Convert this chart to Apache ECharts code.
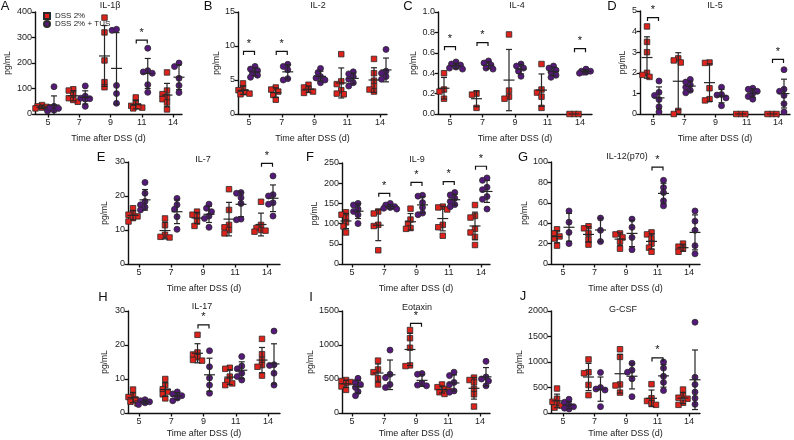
<!DOCTYPE html>
<html><head><meta charset="utf-8">
<script src="https://cdn.jsdelivr.net/npm/echarts@6/dist/echarts.min.js"></script>
<style>html,body{margin:0;padding:0;background:#fff}#c{width:794px;height:440px}</style>
</head><body><div id="c"></div>
<script>
const days = ['5','7','9','11','14'];
const groupNames = ['DSS 2%', 'DSS 2% + TUS'];

// IL-1β
const il1b_dss = [[35,30,25,22,28,20],[97,92,75,62,48,55],[378,320,210,125,105],[65,45,32,25,22,30],[163,92,78,66,58,45,18]];
const il1b_tus = [[107,30,15,12,22,25],[110,70,62,58,30,60],[328,332,112,80,42],[258,170,165,160,115,85],[200,186,140,112,84]];
const il1b_sig = [[3,290]];
// IL-2
const il2_dss = [[4.5,3.8,3.5,3.2,3.0,2.9],[3.9,3.6,3.3,2.8,2.1],[4.3,3.9,3.6,3.3,3.1],[8.8,4.8,4.4,3.5,3.0,2.9],[8.1,6.0,4.9,4.1,3.6,3.3]];
const il2_tus = [[7.0,6.6,6.4,6.0,5.7,5.4],[7.3,7.0,6.5,5.2,5.0],[6.7,6.1,5.5,5.3,5.0,4.6],[6.2,5.9,5.5,5.1,4.6,4.1],[9.5,6.3,6.0,5.5,5.1]];
const il2_sig = [[0,9.2],[1,9.2]];
// IL-4
const il4_dss = [[0.40,0.24,0.22,0.15],[0.20,0.19,0.06],[0.78,0.23,0.17,0.15],[0.49,0.24,0.21,0.17,0.06],[0,0,0]];
const il4_tus = [[0.51,0.49,0.48,0.46,0.44,0.45],[0.52,0.50,0.48,0.45,0.44],[0.49,0.47,0.45,0.42,0.37],[0.47,0.45,0.43,0.41,0.38,0.36],[0.44,0.42,0.41,0.41,0.42,0.40]];
const il4_sig = [[0,0.66],[1,0.70],[4,0.64]];
// IL-5
const il5_dss = [[4.25,3.5,3.0,2.0,1.9,1.8],[2.7,2.6,2.5,0.15,0.0],[2.5,2.48,1.25,0.72,0.66],[0,0,0],[0,0,0]];
const il5_tus = [[1.6,1.05,0.9,0.7,0.35,0.1],[1.68,1.55,1.42,1.3,1.15,1.03],[1.3,0.95,0.92,0.78,0.4],[1.25,1.2,1.1,1.0,0.85,0.72],[2.15,1.2,1.1,0.9,0.5,0.1]];
const il5_sig = [[0,4.68],[4,2.65]];
// IL-7
const il7_dss = [[16.4,15.0,14.5,14.0,13.5,12.5],[13.4,11.4,8.6,8.0,7.8],[15.4,14.5,14.0,12.5,11.2],[22.0,15.9,11.5,10.8,10.0,9.0],[18.3,11.5,10.6,10.0,9.8,9.5]];
const il7_tus = [[24.0,20.8,18.4,17.4,16.7,15.9],[19.3,17.4,16.1,13.9,10.2],[17.6,16.4,15.4,14.1,13.4,10.8],[21.0,20.8,19.5,17.8,13.2,13.0],[25.9,20.4,20.0,18.0,17.6,14.1]];
const il7_sig = [[4,29.6]];
// IL-9
const il9_dss = [[128,122,115,103,93,78],[130,125,97,94,34],[137,110,100,89,87],[142,140,135,97,91,70],[146,119,115,87,78,67,47]];
const il9_tus = [[150,146,136,130,122,100],[150,146,142,140,136,138],[170,168,152,140,126,122],[177,171,163,155,147,142],[213,207,190,184,167,160,136]];
const il9_sig = [[1,175],[2,202],[3,204],[4,242]];
// IL-12(p70)
const il12_dss = [[34,30,27,25,18],[37,35,30,24,19],[30,29,26,22,15],[31,29,25,20,16,12],[20,17,15,12]];
const il12_tus = [[52,41,31,20],[45,33,22],[44,36,26,14],[82,75,70,62,57],[52,42,33,18,10]];
const il12_sig = [[3,95]];
// IL-17
const il17_dss = [[6.9,5.2,4.7,4.0,3.3,2.8],[10,8.2,7.0,6.3,5.5,4.3],[23,17.8,17.2,16.4,15.6,15.4],[13.3,13.0,10.7,9.4,8.7,8.2],[21.8,17.3,15.6,14.1,13.6,11]];
const il17_tus = [[3.9,3.6,3.3,3.0,2.5],[6.2,5.6,5.1,4.4,3.6],[18.3,13.6,10.3,8.2,5.8],[16.6,13.8,13.0,11.7,10.7,9.7],[24.1,14.2,14.0,11.7,8.2]];
const il17_sig = [[2,25.9]];
// Eotaxin
const eot_dss = [[485,470,455,435,390,340],[770,640,600,510,420],[1220,1100,960,700,690],[420,380,355,330,305,280],[520,485,450,355,275,95]];
const eot_tus = [[510,450,420,375,315,255],[925,570,520,420,375],[580,570,440,410,400],[600,550,450,420,325,305],[760,530,500,470,400]];
const eot_sig = [[2,1319]];
// G-CSF
const gcsf_dss = [[480,280,220,190,145,105],[1050,800,780,550,350],[1250,1100,560,540,400],[565,290,235,190,160],[460,350,300,280,200,160]];
const gcsf_tus = [[270,210,160,125,95,80],[795,500,470,450,125],[975,840,800,670,320],[1000,880,720,600,440],[1780,700,560,410,290,170]];
const gcsf_sig = [[3,1080]];

const panels = [
  {letter:'A', title:'IL-1β', dss:il1b_dss, tus:il1b_tus, sig:il1b_sig, ymax:400, step:100, dec:0},
  {letter:'B', title:'IL-2', dss:il2_dss, tus:il2_tus, sig:il2_sig, ymax:15, step:5, dec:0},
  {letter:'C', title:'IL-4', dss:il4_dss, tus:il4_tus, sig:il4_sig, ymax:1.0, step:0.2, dec:1},
  {letter:'D', title:'IL-5', dss:il5_dss, tus:il5_tus, sig:il5_sig, ymax:5, step:1, dec:0},
  {letter:'E', title:'IL-7', dss:il7_dss, tus:il7_tus, sig:il7_sig, ymax:30, step:10, dec:0},
  {letter:'F', title:'IL-9', dss:il9_dss, tus:il9_tus, sig:il9_sig, ymax:250, step:50, dec:0},
  {letter:'G', title:'IL-12(p70)', dss:il12_dss, tus:il12_tus, sig:il12_sig, ymax:100, step:20, dec:0},
  {letter:'H', title:'IL-17', dss:il17_dss, tus:il17_tus, sig:il17_sig, ymax:30, step:10, dec:0},
  {letter:'I', title:'Eotaxin', dss:eot_dss, tus:eot_tus, sig:eot_sig, ymax:1500, step:500, dec:0},
  {letter:'J', title:'G-CSF', dss:gcsf_dss, tus:gcsf_tus, sig:gcsf_sig, ymax:2000, step:500, dec:0}
];

// layout (pixels)
const layout = [
  {left:35, top:12, bot:114, c0:48, sp:31.25, right:182, yng:23, xng:20, tt:[110,6], lt:[5,6]},
  {left:238, top:12, bot:114, c0:249, sp:32.75, right:387, yng:6, xng:20, tt:[318,6], lt:[208,6]},
  {left:438, top:12, bot:114, c0:450, sp:32.5, right:592, yng:6, xng:20, tt:[517,6], lt:[408,6]},
  {left:640, top:11, bot:114, c0:653, sp:31.25, right:790, yng:13, xng:20, tt:[715,6], lt:[612,6]},
  {left:128, top:162, bot:264, c0:139, sp:32, right:280, yng:19, xng:20, tt:[203,160], lt:[101,157]},
  {left:342, top:163, bot:264, c0:352, sp:32.25, right:490, yng:23, xng:20, tt:[417,160], lt:[310,157]},
  {left:551, top:162, bot:264, c0:563, sp:31.5, right:700, yng:17, xng:20, tt:[627,157], lt:[523,157]},
  {left:128, top:311, bot:413, c0:139, sp:32.25, right:280, yng:19, xng:16, tt:[202,307], lt:[103,297]},
  {left:342, top:311, bot:413, c0:352, sp:32, right:490, yng:23, xng:16, tt:[417,308], lt:[311,297]},
  {left:551, top:311, bot:413, c0:563, sp:31.5, right:700, yng:26, xng:16, tt:[623,310], lt:[523,296]}
];

const RED = '#df221c', PURPLE = '#55197a', EDGE = '#2a2a2a';
const FONT = '"Liberation Sans", Arial, Helvetica, sans-serif';
const GOFF = [-6, 6];

function swarm(vals, ppu) {
  const order = vals.map((v,i)=>i).sort((a,b)=>vals[b]-vals[a]);
  const placed = [], offs = new Array(vals.length);
  const cands = [0,-2.5,2.5,-4.5,4.5,-6.5,6.5];
  order.forEach(i => {
    const y = vals[i]*ppu;
    let best = 0, bestD = -1;
    for (const c of cands) {
      let dmin = Infinity;
      for (const p of placed) dmin = Math.min(dmin, Math.hypot(c-p.x, y-p.y));
      if (dmin >= 4.5) { best = c; break; }
      if (dmin > bestD) { bestD = dmin; best = c; }
    }
    placed.push({x:best, y}); offs[i] = best;
  });
  return offs;
}
function meanSd(a) {
  const m = a.reduce((s,v)=>s+v,0)/a.length;
  const sd = a.length>1 ? Math.sqrt(a.reduce((s,v)=>s+(v-m)*(v-m),0)/(a.length-1)) : 0;
  return [m, sd];
}

const grid=[], xAxis=[], yAxis=[], series=[], graphic=[];
panels.forEach((p, k) => {
  const L = layout[k];
  const h = L.bot - L.top;
  const ppu = h / p.ymax;
  grid.push({left:L.left, top:L.top, width:L.right-L.left, height:h, containLabel:false});
  const xmin = -(L.c0 - L.left)/L.sp;
  const xmax = 4 + (L.right - (L.c0 + 4*L.sp))/L.sp;
  xAxis.push({type:'value', gridIndex:k, min:xmin, max:xmax,
    name:'Time after DSS (d)', nameLocation:'middle', nameGap:L.xng,
    nameTextStyle:{fontSize:9, color:'#222', fontFamily:FONT},
    axisLine:{onZero:false, lineStyle:{color:'#111', width:1.4}},
    axisTick:{customValues:[0,1,2,3,4], length:3.5, lineStyle:{color:'#111', width:1.3}},
    axisLabel:{customValues:[0,1,2,3,4], formatter:v=>days[Math.round(v)], fontSize:9, color:'#222', margin:4, fontFamily:FONT},
    splitLine:{show:false}});
  yAxis.push({type:'value', gridIndex:k, min:0, max:p.ymax, interval:p.step,
    name:'pg/mL', nameLocation:'middle', nameGap:L.yng, nameRotate:90,
    nameTextStyle:{fontSize:8.5, color:'#222', fontFamily:FONT},
    axisLine:{show:true, onZero:false, lineStyle:{color:'#111', width:1.4}},
    axisTick:{show:true, length:3.5, lineStyle:{color:'#111', width:1.3}},
    axisLabel:{fontSize:9, color:'#222', margin:3, fontFamily:FONT, formatter:v=>v.toFixed(p.dec)},
    splitLine:{show:false}});
  const groups = [p.dss, p.tus];
  const ebData = [];
  groups.forEach((g, gi) => {
    const data = [];
    g.forEach((vals, di) => {
      const offs = swarm(vals, ppu);
      vals.forEach((v, j) => data.push({value:[di, v], symbolOffset:[GOFF[gi]+offs[j], 0]}));
      const [m, sd] = meanSd(vals);
      ebData.push([di, m, sd, GOFF[gi]]);
    });
    series.push({type:'scatter', name:groupNames[gi], xAxisIndex:k, yAxisIndex:k,
      symbol: gi===0 ? 'rect' : 'circle', symbolSize: gi===0 ? 5.5 : 6,
      itemStyle:{color: gi===0 ? RED : PURPLE, borderColor:EDGE, borderWidth:0.8, opacity:1},
      emphasis:{disabled:true}, silent:true, z:3, data});
  });
  series.push({type:'custom', xAxisIndex:k, yAxisIndex:k, z:5, silent:true, clip:false,
    encode:{x:0, y:1}, data:ebData,
    renderItem:(params, api) => {
      const x = api.value(0), m = api.value(1), s = api.value(2), off = api.value(3);
      const c = api.coord([x, m]); const cx = c[0] + off;
      const st = {stroke:'#262626', lineWidth:1.2};
      const ch = [{type:'line', shape:{x1:cx-5.5, y1:c[1], x2:cx+5.5, y2:c[1]}, style:st}];
      if (s > 0) {
        const top = api.coord([x, m+s])[1];
        const bot = api.coord([x, Math.max(0, m-s)])[1];
        ch.push({type:'line', shape:{x1:cx, y1:top, x2:cx, y2:bot}, style:st});
        ch.push({type:'line', shape:{x1:cx-3, y1:top, x2:cx+3, y2:top}, style:st});
        if (m - s > 0) ch.push({type:'line', shape:{x1:cx-3, y1:bot, x2:cx+3, y2:bot}, style:st});
      }
      return {type:'group', children:ch};
    }});
  series.push({type:'custom', xAxisIndex:k, yAxisIndex:k, z:6, silent:true, clip:false,
    encode:{x:0, y:1}, data:p.sig,
    renderItem:(params, api) => {
      const c = api.coord([api.value(0), api.value(1)]);
      const st = {stroke:'#111', lineWidth:1.2, fill:null};
      return {type:'group', children:[
        {type:'polyline', shape:{points:[[c[0]-5.5, c[1]+3.5],[c[0]-5.5, c[1]],[c[0]+5.5, c[1]],[c[0]+5.5, c[1]+3.5]]}, style:st},
        {type:'text', style:{text:'*', x:c[0], y:c[1]-2, align:'center', verticalAlign:'bottom', fontSize:11, fill:'#111', fontFamily:FONT}}
      ]};
    }});
  graphic.push({type:'text', x:L.tt[0], y:L.tt[1], style:{text:p.title, align:'center', verticalAlign:'middle', fontSize:9, fill:'#222', fontFamily:FONT}});
  graphic.push({type:'text', x:L.lt[0], y:L.lt[1], style:{text:p.letter, align:'center', verticalAlign:'middle', fontSize:13, fill:'#111', fontFamily:FONT}});
});

const chart = echarts.init(document.getElementById('c'), null, {renderer:'canvas'});
chart.setOption({
  animation:false,
  textStyle:{fontFamily:FONT},
  grid, xAxis, yAxis, series, graphic,
  legend:{data:[{name:groupNames[0], icon:'rect'},{name:groupNames[1], icon:'circle'}],
    orient:'vertical', left:38, top:7, itemWidth:6, itemHeight:6, itemGap:0,
    textStyle:{fontSize:8, color:'#222', lineHeight:8, fontFamily:FONT}, selectedMode:false}
});
</script></body></html>
